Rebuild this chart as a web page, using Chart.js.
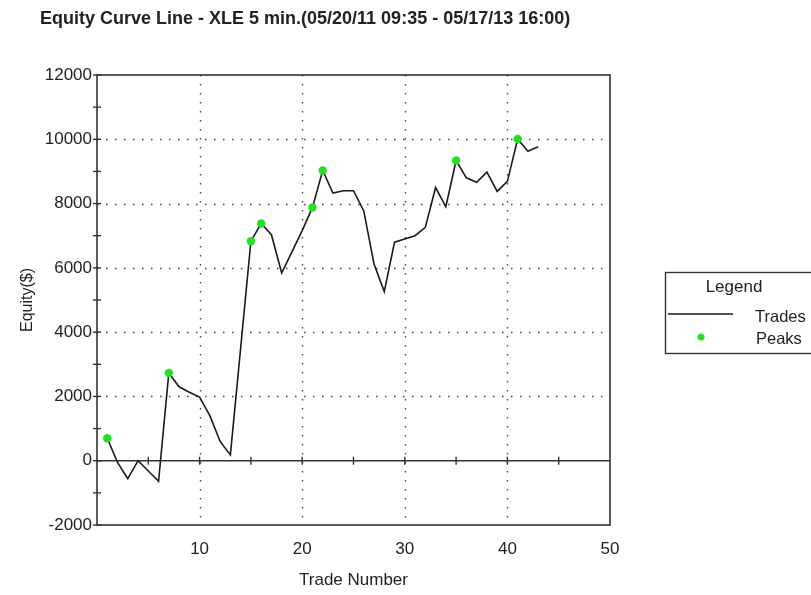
<!DOCTYPE html>
<html><head><meta charset="utf-8">
<script src="https://cdn.jsdelivr.net/npm/chart.js@4.4.0/dist/chart.umd.min.js"></script>
<style>html,body{margin:0;padding:0;background:#fff}canvas{display:block}</style>
</head><body>
<canvas id="c" width="811" height="595"></canvas>
<script>
const chartTitle = "Equity Curve Line - XLE 5 min.(05/20/11 09:35 - 05/17/13 16:00)";
const xAxisTitle = "Trade Number";
const yAxisTitle = "Equity($)";
const legendTitle = "Legend";
const seriesNames = ["Trades", "Peaks"];

const tradeNumbers = [1,2,3,4,5,6,7,8,9,10,11,12,13,14,15,16,17,18,19,20,21,22,23,24,25,26,27,28,29,30,31,32,33,34,35,36,37,38,39,40,41,42,43];
const equity = [700,-50,-560,0,-320,-640,2730,2300,2130,1980,1400,600,180,3500,6830,7380,7030,5840,6500,7160,7880,9030,8330,8400,8400,7770,6120,5260,6800,6900,7000,7260,8500,7900,9340,8800,8660,8980,8380,8690,10010,9630,9770];
const peaks = [700,null,null,null,null,null,2730,null,null,null,null,null,null,null,6830,7380,null,null,null,null,7880,9030,null,null,null,null,null,null,null,null,null,null,null,null,9340,null,null,null,null,null,10010,null,null];

const xTickLabels = [10,20,30,40,50];
const yTickLabels = [-2000,0,2000,4000,6000,8000,10000,12000];
const xMinorTicks = [5,10,15,20,25,30,35,40,45];
const yMinorTicks = [-1000,0,1000,2000,3000,4000,5000,6000,7000,8000,9000,10000,11000];

const FONT = '"Liberation Sans", Arial, sans-serif';

const decor = {
  id: 'decor',
  beforeDatasetsDraw(chart) {
    const {ctx, chartArea: a, scales: {x, y}} = chart;
    ctx.save();
    // dotted grid
    ctx.strokeStyle = '#444';
    ctx.lineWidth = 1.4;
    ctx.setLineDash([1.5, 7.5]);
    xTickLabels.forEach(v => {
      if (v >= 50) return;
      const px = Math.round(x.getPixelForValue(v)) + 0.5;
      ctx.beginPath(); ctx.moveTo(px, a.top); ctx.lineTo(px, a.bottom); ctx.stroke();
    });
    yTickLabels.forEach(v => {
      if (v === 0 || v === -2000 || v === 12000) return;
      const py = Math.round(y.getPixelForValue(v)) + 0.5;
      ctx.beginPath(); ctx.moveTo(a.left, py); ctx.lineTo(a.right, py); ctx.stroke();
    });
    ctx.setLineDash([]);
    // frame
    ctx.strokeStyle = '#333';
    ctx.lineWidth = 1.6;
    ctx.strokeRect(a.left, a.top, a.right - a.left, a.bottom - a.top);
    // zero line
    const y0 = y.getPixelForValue(0);
    ctx.lineWidth = 1.6;
    ctx.beginPath(); ctx.moveTo(a.left, y0); ctx.lineTo(a.right, y0); ctx.stroke();
    // ticks on zero line
    ctx.lineWidth = 1.4;
    xMinorTicks.forEach(v => {
      const px = x.getPixelForValue(v);
      ctx.beginPath(); ctx.moveTo(px, y0 - 4); ctx.lineTo(px, y0 + 4); ctx.stroke();
    });
    // ticks on left axis
    yMinorTicks.concat([12000,-2000]).forEach(v => {
      const py = y.getPixelForValue(v);
      ctx.beginPath(); ctx.moveTo(a.left - 4, py); ctx.lineTo(a.left + 4, py); ctx.stroke();
    });
    ctx.restore();
  },
  afterDraw(chart) {
    const {ctx, chartArea: a} = chart;
    ctx.save();
    ctx.fillStyle = '#222';
    // title
    ctx.font = 'bold 18px ' + FONT;
    ctx.textAlign = 'left'; ctx.textBaseline = 'middle';
    ctx.fillText(chartTitle, 40, 19);
    // x title
    ctx.font = '17px ' + FONT;
    ctx.textAlign = 'center';
    ctx.fillText(xAxisTitle, (a.left + a.right) / 2, 580);
    // y title
    ctx.save();
    ctx.translate(28, 300);
    ctx.rotate(-Math.PI / 2);
    ctx.font = '16px ' + FONT;
    ctx.fillText(yAxisTitle, 0, 0);
    ctx.restore();
    // legend
    const lx = 665, ly = 272, lw = 150, lh = 81;
    ctx.strokeStyle = '#333'; ctx.lineWidth = 1.4;
    ctx.strokeRect(lx + 0.5, ly + 0.5, lw, lh);
    ctx.font = '17px ' + FONT;
    ctx.textAlign = 'center';
    ctx.fillText(legendTitle, 734, 287);
    const ds = chart.data.datasets;
    ctx.strokeStyle = ds[0].borderColor; ctx.lineWidth = 1.5;
    ctx.beginPath(); ctx.moveTo(668, 314); ctx.lineTo(733, 314); ctx.stroke();
    ctx.textAlign = 'left';
    ctx.font = '16.5px ' + FONT;
    ctx.fillText(ds[0].label, 755, 317);
    ctx.fillStyle = ds[1].backgroundColor;
    ctx.beginPath(); ctx.arc(701, 337, 3.5, 0, Math.PI * 2); ctx.fill();
    ctx.fillStyle = '#222';
    ctx.fillText(ds[1].label, 756, 339);
    ctx.restore();
  }
};

new Chart(document.getElementById('c'), {
  type: 'line',
  data: {
    datasets: [
      {
        label: seriesNames[0],
        data: tradeNumbers.map((t, i) => ({x: t, y: equity[i]})),
        borderColor: '#1a1a1a', borderWidth: 1.6,
        pointRadius: 0, tension: 0, fill: false, order: 2
      },
      {
        label: seriesNames[1],
        data: tradeNumbers.map((t, i) => ({x: t, y: peaks[i]})),
        showLine: false, pointRadius: 4.2, pointHoverRadius: 4.2,
        backgroundColor: '#22e022', borderColor: '#22e022', borderWidth: 0, order: 1
      }
    ]
  },
  options: {
    responsive: false,
    animation: false,
    events: [],
    layout: {padding: {top: 75, right: 201, left: 0, bottom: 0}},
    plugins: {legend: {display: false}, tooltip: {enabled: false}, title: {display: false}},
    scales: {
      x: {
        type: 'linear', min: 0, max: 50,
        grid: {display: false, drawTicks: false},
        border: {display: false},
        ticks: {
          stepSize: 10, padding: 14, color: '#222', maxRotation: 0,
          font: {family: FONT, size: 17},
          callback: v => xTickLabels.includes(v) ? String(v) : ''
        },
        afterFit: s => { s.height = 70; }
      },
      y: {
        type: 'linear', min: -2000, max: 12000,
        grid: {display: false, drawTicks: false},
        border: {display: false},
        ticks: {
          stepSize: 2000, padding: 5, color: '#222',
          font: {family: FONT, size: 17},
          callback: v => yTickLabels.includes(v) ? String(v) : ''
        },
        afterFit: s => { s.width = 97; }
      }
    }
  },
  plugins: [decor]
});
</script>
</body></html>
